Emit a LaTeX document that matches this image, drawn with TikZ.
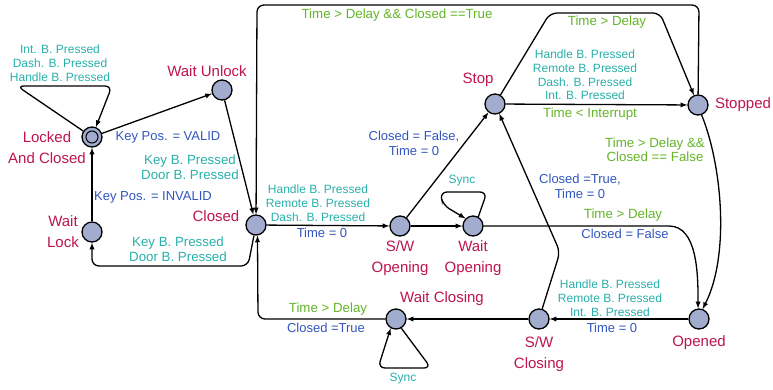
\documentclass[tikz,border=0pt]{standalone}
\usepackage{fontspec}
\setmainfont{Liberation Sans}
\usetikzlibrary{positioning}
\definecolor{stcol}{RGB}{190,20,80}
\definecolor{btncol}{RGB}{40,175,170}
\definecolor{actcol}{RGB}{50,85,190}
\definecolor{grdcol}{RGB}{100,180,40}
\definecolor{nodecol}{RGB}{162,172,207}

\tikzset{
	state/.style={circle, draw=black, line width=1.3pt, fill=nodecol, minimum size=20pt, inner sep=0pt},
	state name/.style={text=stcol, font=\fontsize{15}{21}\selectfont, align=center},
	btn/.style={text=btncol, font=\fontsize{12}{13.8}\selectfont, align=center, inner sep=0pt},
	btn big/.style={text=btncol, font=\fontsize{13.3}{15}\selectfont, align=center, inner sep=0pt},
	act/.style={text=actcol, font=\fontsize{13}{15}\selectfont, align=center, inner sep=0pt},
	grd/.style={text=grdcol, font=\fontsize{13.3}{14}\selectfont, align=center, inner sep=0pt},
	edge line/.style={line width=1.3pt, -latex, rounded corners=7pt}
}

\begin{document}
\begin{tikzpicture}[x=1pt, y=-1pt]
		\useasboundingbox (0,0) rectangle (773,389);
		% states
		\node[state] (locked) at (92,137) {};
		\draw[line width=1pt] (locked) circle (6pt);
		\node[state] (waitunlock) at (222,90) {};
		\node[state] (waitlock) at (92,232) {};
		\node[state] (closed) at (256,225) {};
		\node[state] (swopening) at (400,226) {};
		\node[state] (waitopening) at (473,226) {};
		\node[state] (stop) at (495,104) {};
		\node[state] (stopped) at (698,105) {};
		\node[state] (opened) at (699,319) {};
		\node[state] (swclosing) at (539,319) {};
		\node[state] (waitclosing) at (396,319) {};
		% state names
		\node[state name] (lockedname) at (47,148) {Locked\\And Closed};
		\node[state name] (waitunlockname) at (207,71) {Wait Unlock};
		\node[state name] (waitlockname) at (63,232) {Wait\\Lock};
		\node[state name] (closedname) at (216,216) {Closed};
		\node[state name] (swopeningname) at (400,258) {S/W\\Opening};
		\node[state name] (waitopeningname) at (473,258) {Wait\\Opening};
		\node[state name] (stopname) at (478,80) {Stop};
		\node[state name] (stoppedname) at (743,105) {Stopped};
		\node[state name] (openedname) at (699,343) {Opened};
		\node[state name] (swclosingname) at (539,354) {S/W\\Closing};
		\node[state name] (waitclosingname) at (442,299) {Wait Closing};
		% transitions
		\draw[edge line] (locked) -- (17,86) -- (112,86) -- (locked);
		\node[btn] at (60,63) {Int. B. Pressed\\Dash. B. Pressed\\Handle B. Pressed};
		\draw[edge line] (locked) -- (waitunlock);
		\node[act] at (168,137) {Key Pos. = VALID};
		\draw[edge line] (waitunlock) -- (closed);
		\node[btn big] at (190,167) {Key B. Pressed\\Door B. Pressed};
		\draw[edge line] (closed) -- (248,266) -- (92,266) -- (waitlock);
		\node[btn big] at (178,249) {Key B. Pressed\\Door B. Pressed};
		\draw[edge line] (waitlock) -- (locked);
		\node[act] at (153,197) {Key Pos. = INVALID};
		\draw[edge line] (closed) -- (swopening);
		\node[btn] at (318,203) {Handle B. Pressed\\Remote B. Pressed\\Dash. B. Pressed};
		\node[act] at (322,233) {Time = 0};
		\draw[edge line] (swopening) -- (waitopening);
		\draw[edge line] (waitopening.60) -- (487,192) -- (440,192) -- (443,205) -- (waitopening.135);
		\node[btn] at (462,181) {Sync};
		\draw[edge line] (swopening) -- (stop);
		\node[act] at (414,143) {Closed = False,\\Time = 0};
		\draw[edge line] (waitopening) -- (662,226) to[out=0, in=90] (opened.95);
		\node[grd] at (623,215) {Time > Delay};
		\node[act] at (625,234) {Closed = False};
		\draw[edge line] (opened) -- (swclosing);
		\node[btn] at (610,298) {Handle B. Pressed\\Remote B. Pressed\\Int. B. Pressed};
		\node[act] at (612,328) {Time = 0};
		\draw[edge line] (swclosing) -- (560,252) -- (stop);
		\node[act] at (580,186) {Closed =True,\\Time = 0};
		\draw[edge line] (swclosing) -- (waitclosing);
		\draw[edge line] (waitclosing.-60) -- (431,368) -- (378,368) -- (waitclosing.-120);
		\node[btn] at (403,379) {Sync};
		\draw[edge line] (waitclosing) -- (258,319) -- (closed.-82);
		\node[grd] at (328,309) {Time > Delay};
		\node[act] at (326,328) {Closed =True};
		\draw[edge line] (stopped) -- (699,5) -- (257,5) -- (closed);
		\node[grd] at (397,15) {Time > Delay \&\& Closed ==True};
		\draw[edge line] (stop) -- (stopped);
		\node[btn] at (585,75) {Handle B. Pressed\\Remote B. Pressed\\Dash. B. Pressed\\Int. B. Pressed};
		\node[grd] at (590,114) {Time < Interrupt};
		\draw[edge line] (stop) -- (550,13) -- (660,13) -- (stopped);
		\node[grd] at (607,22) {Time > Delay};
		\draw[edge line] (stopped.-70) .. controls (722,165) and (730,255) .. (opened.70);
		\node[grd] at (655,150) {Time > Delay \&\&\\Closed == False};
	\end{tikzpicture}
\end{document}
